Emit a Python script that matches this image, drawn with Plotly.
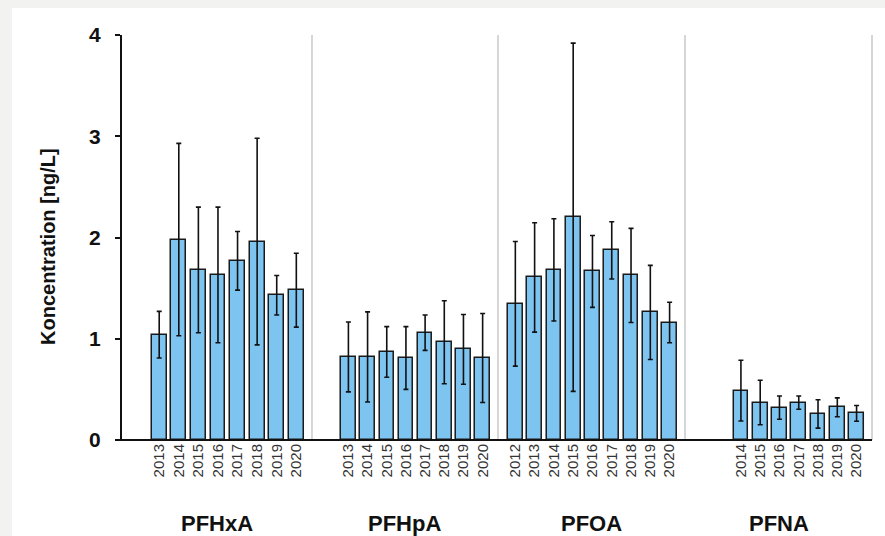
import plotly.graph_objects as go

# Annual mean concentrations (ng/L) with standard deviations, per compound
compounds = ["PFHxA", "PFHpA", "PFOA", "PFNA"]

pfhxa_years = [2013, 2014, 2015, 2016, 2017, 2018, 2019, 2020]
pfhxa_mean = [1.04, 1.98, 1.68, 1.63, 1.77, 1.96, 1.43, 1.48]
pfhxa_sd = [0.23, 0.95, 0.62, 0.67, 0.29, 1.02, 0.195, 0.365]

pfhpa_years = [2013, 2014, 2015, 2016, 2017, 2018, 2019, 2020]
pfhpa_mean = [0.82, 0.82, 0.87, 0.81, 1.06, 0.965, 0.895, 0.81]
pfhpa_sd = [0.345, 0.445, 0.25, 0.31, 0.175, 0.41, 0.345, 0.44]

pfoa_years = [2012, 2013, 2014, 2015, 2016, 2017, 2018, 2019, 2020]
pfoa_mean = [1.345, 1.605, 1.68, 2.2, 1.665, 1.873, 1.625, 1.26, 1.16]
pfoa_sd = [0.615, 0.54, 0.505, 1.72, 0.355, 0.283, 0.465, 0.465, 0.20]

pfna_years = [2014, 2015, 2016, 2017, 2018, 2019, 2020]
pfna_mean = [0.487, 0.37, 0.32, 0.369, 0.257, 0.323, 0.263]
pfna_sd = [0.30, 0.22, 0.115, 0.065, 0.14, 0.093, 0.078]

y_ticks = [0, 1, 2, 3, 4]
y_title = "Koncentration [ng/L]"

groups = [
    (pfhxa_years, pfhxa_mean, pfhxa_sd),
    (pfhpa_years, pfhpa_mean, pfhpa_sd),
    (pfoa_years, pfoa_mean, pfoa_sd),
    (pfna_years, pfna_mean, pfna_sd),
]

# each compound gets its own panel along a shared y axis
bounds = [0.0, 0.2533, 0.5013, 0.7507, 1.0]

BAR_FILL = "#7ec4f1"
FONT = "Liberation Sans, Arial, sans-serif"

fig = go.Figure()

# white card on a light grey page (drawn first so it sits underneath)
fig.add_shape(type="rect", xref="paper", yref="paper",
              x0=-0.1467, x1=1.05, y0=-0.4, y1=1.0667,
              fillcolor="white", line=dict(width=0), layer="below")

for i, (years, mean, sd) in enumerate(groups):
    suffix = "" if i == 0 else str(i + 1)
    fig.add_trace(go.Bar(
        x=years, y=mean,
        xaxis="x" + suffix, yaxis="y",
        width=0.76,
        marker=dict(color=BAR_FILL, line=dict(color="#1a1a1a", width=1.5)),
        error_y=dict(type="data", array=sd, visible=True,
                     color="#111111", thickness=1.6, width=2.5),
        showlegend=False,
        hoverinfo="x+y",
    ))
    axis = dict(
        domain=[bounds[i], bounds[i + 1]],
        range=[2011.1, 2020.8],
        anchor="y",
        tickmode="array",
        tickvals=years,
        ticktext=[str(y) for y in years],
        tickangle=-90,
        tickfont=dict(family=FONT, size=15, color="#333333"),
        showgrid=False, zeroline=False, showline=False, ticks="",
        fixedrange=True,
    )
    fig.layout["xaxis" + suffix] = axis

    # panel separator on the right edge
    fig.add_shape(type="line", xref="paper", yref="paper",
                  x0=bounds[i + 1], x1=bounds[i + 1], y0=0, y1=1,
                  line=dict(color="#d6d6d6", width=2), layer="below")

    # compound name under its panel
    fig.add_annotation(text="<b>%s</b>" % compounds[i],
                       xref="paper", yref="paper",
                       x=(bounds[i] + bounds[i + 1]) / 2, y=-0.205,
                       showarrow=False, xanchor="center", yanchor="middle",
                       font=dict(family=FONT, size=22, color="#111111"))

# x baseline across all panels
fig.add_shape(type="line", xref="paper", yref="paper",
              x0=-0.006, x1=1.0, y0=0, y1=0,
              line=dict(color="#111111", width=2.2))

fig.add_annotation(text="<b>%s</b>" % y_title, xref="paper", yref="paper",
                   x=-0.0987, y=0.479, textangle=-90, showarrow=False,
                   xanchor="center", yanchor="middle",
                   font=dict(family=FONT, size=20, color="#111111"))

fig.update_layout(
    width=885, height=536,
    margin=dict(l=122, r=13, t=35, b=96),
    paper_bgcolor="#f2f2f0",
    plot_bgcolor="rgba(0,0,0,0)",
    bargap=0,
    yaxis=dict(
        range=[0, 4],
        tickmode="array", tickvals=y_ticks,
        ticks="outside", ticklen=5, tickwidth=2, tickcolor="#111111",
        showline=True, linecolor="#111111", linewidth=2,
        showgrid=False, zeroline=False,
        tickfont=dict(family=FONT, size=21, color="#111111", weight="bold"),
        ticklabelstandoff=10,
        fixedrange=True,
    ),
)

fig.write_html("out.html")
